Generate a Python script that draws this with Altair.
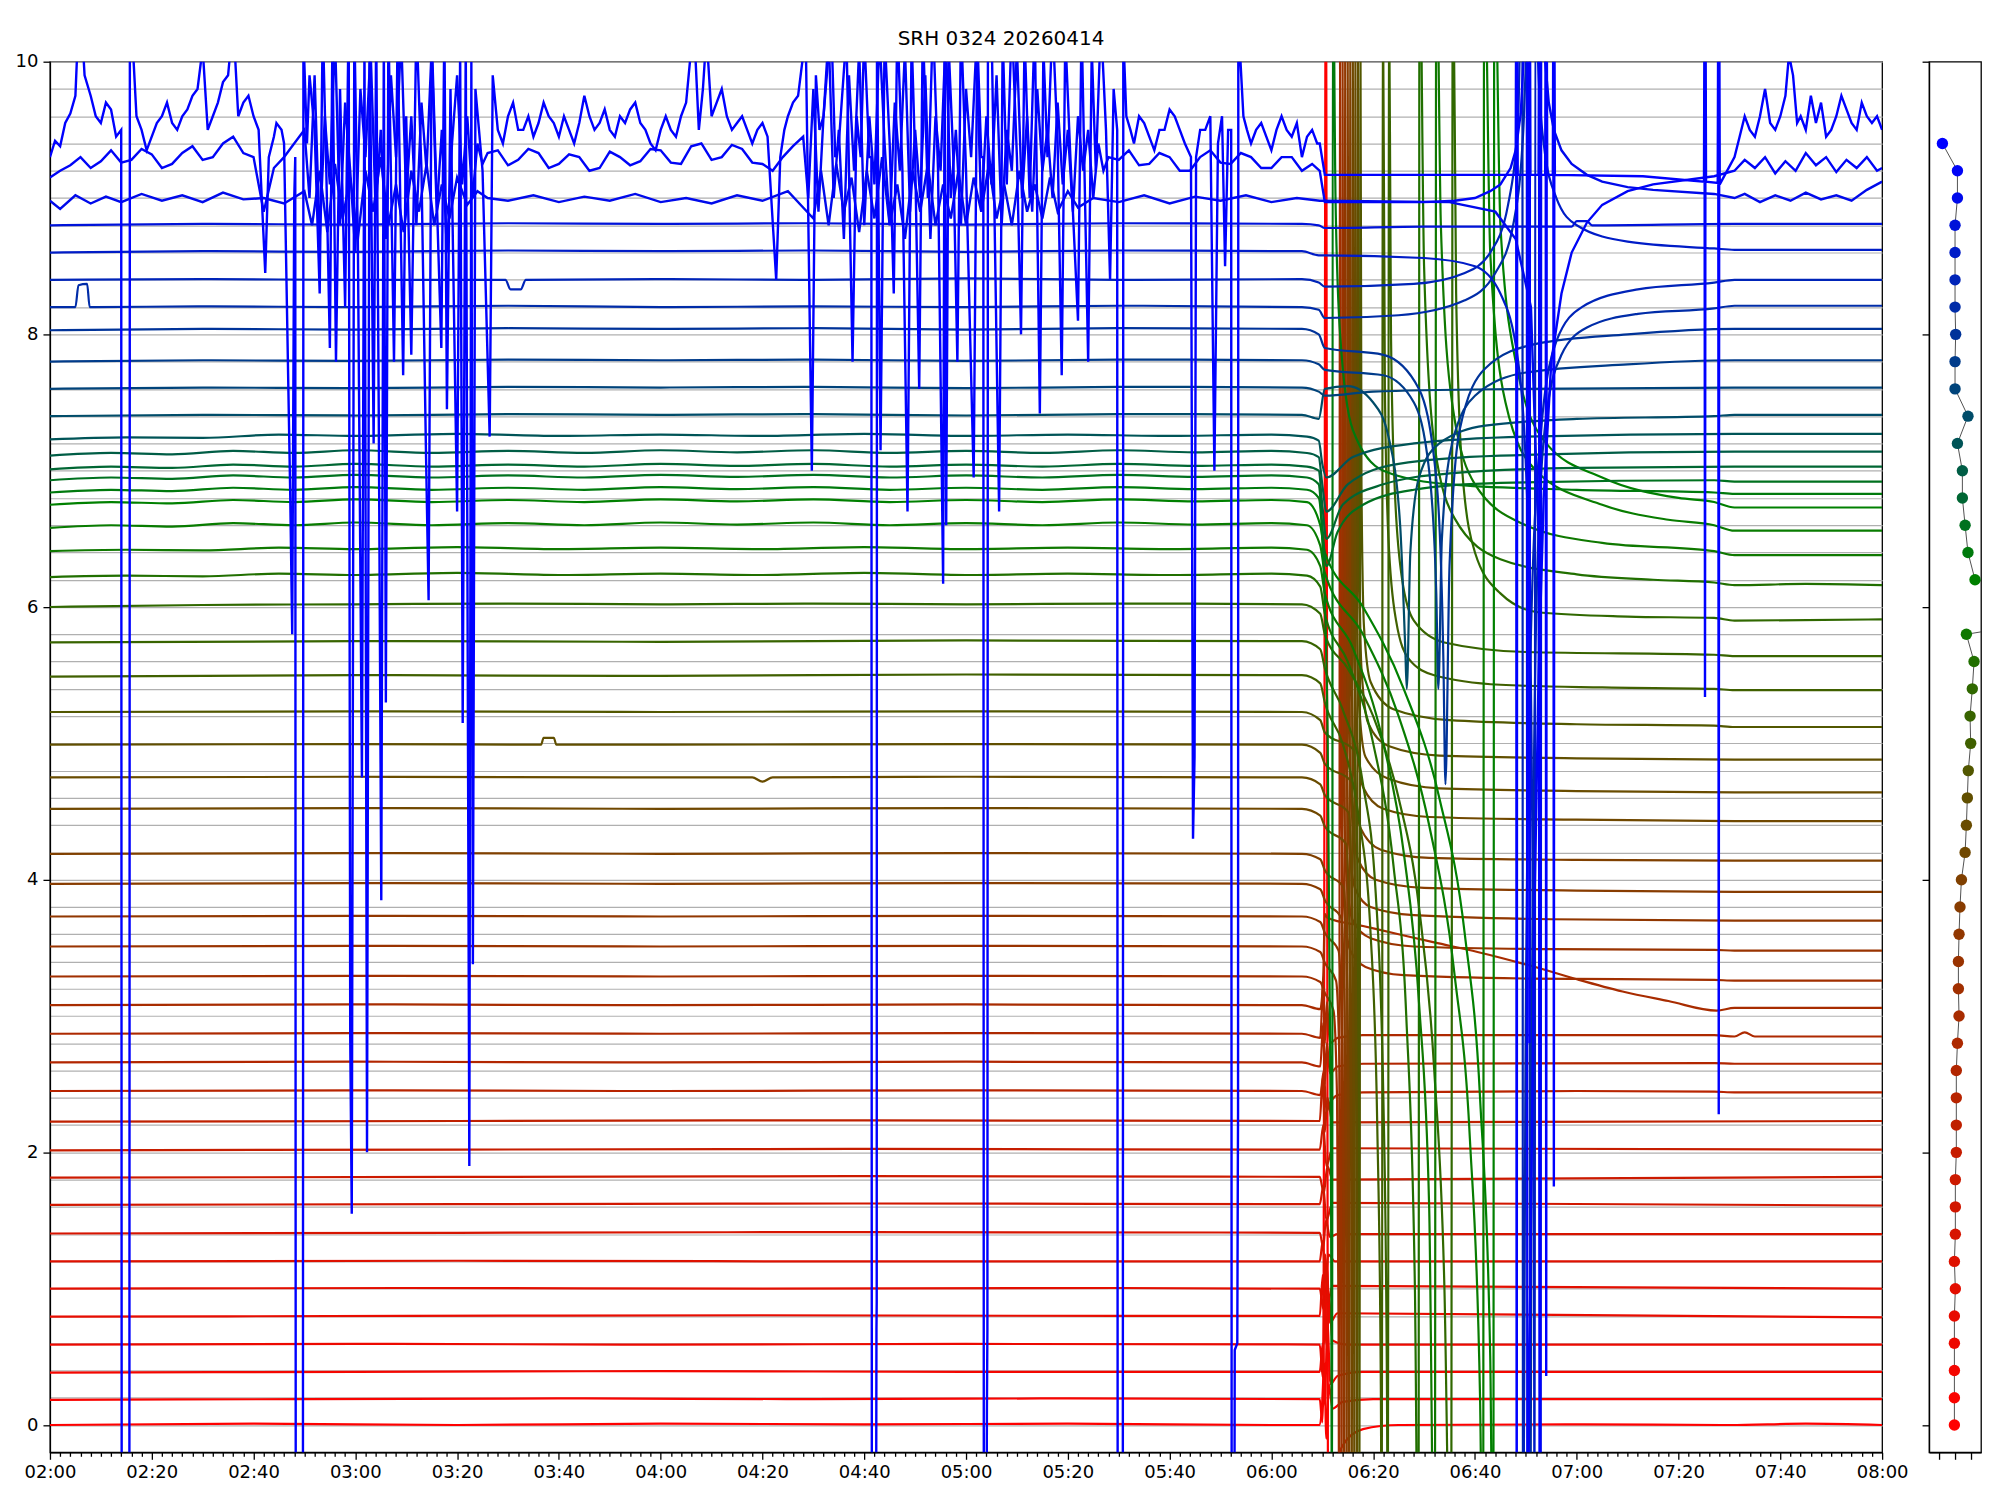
import altair as alt
import pandas as pd

TITLE = "SRH 0324 20260414"

# ---- trace data: (minutes after 02:00, value) ----
trace_00 = [(0,0.0),(40,0.01),(80,0.0),(120,0.01),(160,0.005),(200,0.01),(240,0.0),(249.5,0.0),(250.2,0.35),(250.7,11),(251.2,-1.5),(252,-0.45),(254,-0.15),(258,-0.03),(265,0.0),(300,0.005),(330,0.0),(345,0.01),(360,0.0)]
trace_01 = [(0,0.185),(50,0.19),(100,0.195),(150,0.19),(200,0.195),(249.5,0.19),(250.0,0.02),(250.4,0.45),(250.8,-0.1),(251.3,0.3),(252,0.12),(254,0.17),(260,0.19),(300,0.19),(360,0.19)]
trace_02 = [(0,0.385),(60,0.39),(120,0.395),(180,0.39),(249.5,0.39),(250.1,0.6),(250.5,0.15),(251.0,0.75),(251.6,0.3),(253,0.36),(258,0.39),(360,0.39)]
trace_03 = [(0,0.59),(60,0.595),(120,0.59),(180,0.595),(249.5,0.59),(250.1,0.35),(250.5,1.05),(250.9,0.55),(251.3,0.95),(252,0.62),(255,0.59),(360,0.59)]
trace_04 = [(0,0.795),(70,0.8),(140,0.805),(210,0.8),(249.5,0.8),(250.1,1.1),(250.5,0.6),(250.9,1.15),(251.5,0.75),(253,0.82),(360,0.79)]
trace_05 = [(0,1.0),(70,1.005),(140,1.0),(210,1.005),(249.5,1.0),(250.2,0.85),(250.6,1.25),(251.1,0.9),(252,1.02),(360,1.0)]
trace_06 = [(0,1.2),(80,1.205),(160,1.2),(249.5,1.2),(250.1,1.35),(250.6,1.05),(251.2,1.25),(252.5,1.2),(360,1.2)]
trace_07 = [(0,1.405),(80,1.41),(160,1.415),(249.5,1.41),(250.2,1.3),(250.7,1.5),(251.5,1.38),(253,1.4),(360,1.4)]
trace_08 = [(0,1.615),(80,1.62),(160,1.625),(249.5,1.62),(250.2,1.75),(250.8,1.5),(252,1.63),(360,1.61)]
trace_09 = [(0,1.815),(80,1.82),(160,1.825),(249.5,1.82),(250.3,1.7),(251,1.9),(252,1.8),(360,1.82)]
trace_10 = [(0,2.015),(80,2.02),(160,2.025),(249.5,2.02),(250.2,2.2),(250.8,1.9),(252,2.03),(360,2.02)]
trace_11 = [(0,2.225),(80,2.23),(160,2.235),(249.5,2.23),(250.1,2.55),(250.5,2.15),(251,2.4),(252,2.22),(360,2.23)]
trace_12 = [(0,2.45),(60,2.455),(120,2.45),(180,2.455),(246,2.45),(249.6,2.42),(250.3,2.6),(250.8,2.3),(251.5,2.36),(253,2.42),(258,2.44),(300,2.45),(327,2.445),(331,2.44),(360,2.44)]
trace_13 = [(0,2.66),(60,2.665),(120,2.66),(180,2.665),(246,2.66),(249.6,2.63),(250.2,2.95),(250.5,2.5),(250.9,2.8),(251.5,2.58),(253,2.63),(258,2.65),(327,2.655),(331,2.65),(360,2.65)]
trace_14 = [(0,2.87),(60,2.875),(120,2.87),(180,2.875),(246,2.87),(249.6,2.84),(250.2,3.25),(250.5,2.8),(250.9,3.1),(251.5,2.8),(253,2.84),(258,2.86),(327,2.86),(331,2.85),(333,2.88),(335,2.85),(360,2.85)]
trace_15 = [(0,3.08),(60,3.085),(120,3.08),(180,3.085),(246,3.08),(249.6,3.05),(250.2,3.3),(250.5,3.75),(251,3.72),(258,3.66),(265,3.6),(272,3.54),(280.5,3.47),(292.7,3.35),(300,3.27),(309,3.18),(318,3.11),(327.5,3.04),(331,3.06),(360,3.06)]
trace_16 = [(0,3.29),(60,3.295),(120,3.29),(180,3.295),(246,3.29),(249.6,3.25),(250.5,3.17),(252.2,3.04),(252.9,2.4),(253.2,0.7),(253.35,-1.5),(253.45,11),(253.7,4.8),(254.2,3.85),(255.5,3.48),(258.5,3.36),(266,3.3),(290,3.275),(327,3.265),(331,3.26),(360,3.26)]
trace_17 = [(0,3.51),(60,3.515),(120,3.51),(180,3.515),(246,3.51),(249.6,3.47),(250.5,3.39),(252.7,3.26),(253.4,2.6),(253.7,0.9),(253.85,-1.5),(253.95,11),(254.2,5.0),(254.7,4.05),(256,3.7),(259.5,3.57),(268,3.51),(295,3.49),(327,3.485),(331,3.48),(360,3.48)]
trace_18 = [(0,3.73),(60,3.735),(120,3.73),(180,3.735),(246,3.73),(249.6,3.69),(250.5,3.61),(253.2,3.48),(253.9,2.8),(254.2,1.1),(254.35,-1.5),(254.45,11),(254.7,5.2),(255.2,4.3),(256.5,3.93),(259.5,3.8),(268,3.74),(295,3.71),(331,3.7),(360,3.7)]
trace_19 = [(0,3.97),(60,3.975),(120,3.97),(180,3.975),(246,3.97),(249.6,3.93),(250.5,3.85),(253.7,3.72),(254.4,3.0),(254.7,1.3),(254.85,-1.5),(254.95,11),(255.2,5.5),(255.7,4.55),(257,4.15),(260.5,4.0),(270,3.94),(300,3.92),(331,3.91),(360,3.91)]
trace_20 = [(0,4.19),(60,4.195),(120,4.19),(180,4.195),(246,4.19),(249.6,4.15),(250.5,4.07),(254.2,3.94),(254.9,3.2),(255.2,1.5),(255.35,-1.5),(255.45,11),(255.7,5.8),(256.2,4.8),(257.5,4.38),(261.5,4.22),(271,4.16),(300,4.145),(331,4.14),(360,4.14)]
trace_21 = [(0,4.52),(60,4.525),(120,4.52),(180,4.525),(246,4.52),(249.6,4.47),(250.5,4.39),(254.7,4.26),(255.4,3.5),(255.7,1.7),(255.85,-1.5),(255.95,11),(256.2,6.1),(256.7,5.1),(258,4.68),(262,4.52),(271,4.46),(300,4.44),(331,4.43),(360,4.43)]
trace_22 = [(0,4.75),(60,4.755),(120,4.75),(138,4.75),(140,4.72),(142,4.75),(180,4.755),(246,4.75),(249.6,4.7),(250.5,4.62),(255.2,4.49),(255.9,3.7),(256.2,1.9),(256.35,-1.5),(256.45,11),(256.7,6.3),(257.2,5.3),(258.5,4.9),(263,4.74),(273,4.67),(300,4.65),(331,4.64),(360,4.64)]
trace_23 = [(0,4.99),(60,4.995),(96.5,4.99),(97,5.04),(99,5.04),(99.5,4.99),(120,4.99),(180,4.995),(246,4.99),(249.6,4.93),(250.5,4.85),(255.7,4.72),(256.4,3.9),(256.7,2.1),(256.85,-1.5),(256.95,11),(257.2,6.6),(257.7,5.55),(259,5.15),(263,4.98),(273,4.91),(300,4.89),(331,4.88),(360,4.88)]
trace_24 = [(0,5.23),(60,5.235),(120,5.23),(180,5.235),(246,5.23),(249.6,5.17),(250.5,5.08),(256.2,4.95),(256.9,4.1),(257.2,2.3),(257.35,-1.5),(257.45,11),(257.7,6.9),(258.2,5.85),(259.5,5.45),(264,5.25),(275,5.17),(300,5.14),(327,5.13),(331,5.12),(360,5.12)]
trace_25 = [(0,5.49),(60,5.5),(120,5.495),(180,5.505),(246,5.5),(249.6,5.44),(250.5,5.3),(254,5.0),(257,4.5),(259.5,3.6),(260.8,2.2),(261.5,0.3),(261.75,-1.5),(261.85,11),(262.3,7.6),(263,6.5),(264.5,5.9),(267,5.62),(272,5.5),(285,5.43),(305,5.41),(327,5.4),(331,5.39),(360,5.39)]
trace_26 = [(0,5.74),(60,5.75),(120,5.745),(180,5.755),(246,5.75),(249.6,5.69),(250.5,5.55),(254,5.25),(258,4.7),(260.5,3.9),(262,2.4),(262.7,0.3),(262.95,-1.5),(263.05,11),(263.5,8.0),(264.2,6.9),(265.7,6.2),(268,5.9),(274,5.74),(290,5.67),(327,5.65),(331,5.64),(360,5.64)]
trace_27 = [(0,6.0),(30,6.015),(60,6.02),(90,6.025),(120,6.02),(150,6.025),(180,6.02),(210,6.025),(246,6.02),(249.6,5.95),(250.5,5.8),(255,5.55),(260,5.2),(265,4.6),(269,3.8),(272,2.6),(274,1.0),(275.3,-1.5),(275.65,11),(276.3,8.3),(277.5,7.0),(280,6.4),(285,6.1),(292.7,5.96),(310,5.93),(327,5.92),(331,5.9),(360,5.91)]
trace_28 = [(0,6.22),(15,6.23),(30,6.225),(45,6.245),(60,6.235),(80,6.25),(100,6.235),(120,6.245),(140,6.235),(160,6.25),(180,6.235),(200,6.245),(220,6.235),(240,6.245),(247,6.23),(249.6,6.15),(250.5,5.95),(255,5.6),(260,5.0),(264,4.1),(266.5,3.0),(268.2,1.0),(268.9,-1.5),(269.1,11),(270,8.5),(272,7.2),(276,6.65),(285,6.35),(300,6.24),(315,6.2),(327,6.18),(331,6.16),(345,6.17),(360,6.16)]
trace_29 = [(0,6.41),(15,6.42),(30,6.415),(45,6.435),(60,6.425),(80,6.44),(100,6.425),(120,6.435),(140,6.425),(160,6.44),(180,6.425),(200,6.435),(220,6.425),(240,6.435),(247,6.42),(249.6,6.3),(250.5,6.1),(256,5.7),(262,5.0),(266,4.2),(269,3.1),(271,1.6),(272.1,-1.5),(272.4,11),(273.3,8.8),(275.5,7.5),(280,6.9),(290,6.6),(305,6.47),(327,6.41),(331,6.38),(360,6.38)]
trace_30 = [(0,6.58),(12,6.6),(24,6.59),(36,6.615),(48,6.6),(60,6.62),(75,6.6),(90,6.615),(105,6.6),(120,6.62),(135,6.605),(150,6.62),(165,6.6),(180,6.615),(195,6.6),(210,6.62),(225,6.605),(240,6.615),(247,6.6),(249.6,6.45),(250.5,6.25),(258,5.8),(265,5.2),(271,4.4),(276,3.3),(279,2.1),(281,0.2),(281.6,-1.5),(281.8,11),(283,8.6),(286,7.5),(292,7.0),(305,6.75),(318,6.64),(327,6.6),(331,6.56),(360,6.56)]
trace_31 = [(0,6.75),(12,6.77),(24,6.76),(36,6.785),(48,6.77),(60,6.79),(75,6.77),(90,6.785),(105,6.77),(120,6.79),(135,6.775),(150,6.79),(165,6.77),(180,6.785),(195,6.77),(210,6.79),(225,6.775),(240,6.785),(247,6.77),(249.6,6.6),(250.5,6.4),(258,6.0),(266,5.4),(273,4.6),(278,3.6),(281,2.4),(283,0.5),(283.6,-1.5),(283.8,11),(285,8.8),(288,7.8),(294,7.2),(305,6.95),(320,6.8),(327,6.77),(331,6.73),(360,6.73)]
trace_32 = [(0,6.84),(12,6.86),(24,6.85),(36,6.875),(48,6.86),(60,6.88),(75,6.86),(90,6.875),(105,6.86),(120,6.88),(135,6.865),(150,6.88),(165,6.86),(180,6.875),(195,6.86),(210,6.88),(225,6.865),(240,6.875),(247,6.86),(249.3,6.8),(250,6.5),(251,5.2),(251.7,2.0),(251.95,-1.5),(252.05,11),(252.6,9.0),(253.5,8.0),(256,7.3),(262,7.0),(275,6.9),(300,6.86),(327,6.84),(331,6.83),(360,6.83)]
trace_33 = [(0,6.93),(12,6.95),(24,6.94),(36,6.965),(48,6.95),(60,6.97),(75,6.95),(90,6.965),(105,6.95),(120,6.97),(135,6.955),(150,6.97),(165,6.95),(180,6.965),(195,6.95),(210,6.97),(225,6.955),(240,6.965),(247,6.95),(249.3,6.9),(250,6.6),(250.8,6.3),(253,6.55),(258,6.75),(268,6.86),(285,6.91),(327,6.93),(331,6.92),(360,6.92)]
trace_34 = [(0,7.01),(12,7.03),(24,7.02),(36,7.045),(48,7.03),(60,7.05),(75,7.03),(90,7.045),(105,7.03),(120,7.05),(135,7.035),(150,7.05),(165,7.03),(180,7.045),(195,7.03),(210,7.05),(225,7.035),(240,7.045),(247,7.03),(249.3,7.0),(250,6.75),(250.8,6.5),(254,6.75),(262,6.9),(275,6.98),(300,7.02),(331,7.03),(360,7.03)]
trace_35 = [(0,7.11),(12,7.13),(24,7.12),(36,7.145),(48,7.13),(60,7.15),(75,7.13),(90,7.145),(105,7.13),(120,7.15),(135,7.135),(150,7.15),(165,7.13),(180,7.145),(195,7.13),(210,7.15),(225,7.135),(240,7.145),(247,7.13),(249.3,7.1),(250,6.9),(250.8,6.7),(255,6.9),(265,7.05),(285,7.11),(331,7.14),(360,7.14)]
trace_36 = [(0,7.23),(15,7.245),(30,7.24),(45,7.265),(60,7.255),(80,7.27),(100,7.255),(120,7.265),(140,7.255),(160,7.27),(180,7.255),(200,7.265),(220,7.255),(240,7.265),(247,7.25),(249.3,7.22),(250,7.05),(250.8,6.95),(256,7.1),(268,7.2),(290,7.25),(331,7.27),(360,7.27)]
trace_37 = [(0,7.4),(30,7.41),(60,7.405),(90,7.415),(120,7.41),(150,7.415),(180,7.405),(210,7.415),(246,7.41),(249.3,7.38),(250.5,7.6),(255,7.62),(260,7.5),(263,7.25),(265.3,6.6),(266.3,5.7),(266.6,5.4),(267.3,6.4),(269,6.95),(273,7.2),(282,7.33),(300,7.38),(327,7.4),(331,7.41),(360,7.41)]
trace_38 = [(0,7.6),(30,7.61),(60,7.605),(90,7.615),(120,7.61),(150,7.615),(180,7.605),(210,7.615),(246,7.61),(249.3,7.58),(250.5,7.55),(260,7.58),(290,7.6),(331,7.61),(360,7.61)]
trace_39 = [(0,7.8),(30,7.81),(60,7.805),(90,7.815),(120,7.81),(150,7.815),(180,7.805),(210,7.815),(246,7.81),(249.3,7.78),(250.5,7.74),(262,7.7),(268,7.5),(271,7.0),(272.4,6.1),(272.8,5.4),(273.5,6.5),(275.5,7.2),(280,7.55),(290,7.72),(310,7.78),(331,7.81),(360,7.81)]
trace_40 = [(0,8.03),(30,8.04),(60,8.035),(90,8.045),(120,8.04),(150,8.045),(180,8.035),(210,8.045),(246,8.04),(249.3,8.0),(250.5,7.9),(262,7.85),(269,7.6),(272.5,6.9),(273.8,5.6),(274.2,4.7),(275,6.3),(277,7.3),(282,7.75),(292,7.93),(310,8.0),(331,8.04),(360,8.04)]
trace_41 = [(0,8.2),(5,8.2),(5.6,8.36),(7.3,8.37),(7.8,8.2),(30,8.205),(60,8.2),(90,8.21),(120,8.2),(150,8.205),(180,8.2),(210,8.21),(246,8.2),(249.3,8.18),(250.5,8.12),(265,8.14),(278,8.25),(284,8.45),(287.5,8.8),(289.5,9.5),(290.6,10.8),(290.75,11),(290.85,-1.5),(291.2,3.0),(292.2,6.2),(294,7.4),(297,7.85),(302,8.05),(312,8.15),(327,8.19),(331,8.21),(360,8.21)]
trace_42 = [(0,8.4),(30,8.405),(60,8.4),(89.5,8.4),(90.5,8.33),(92.5,8.33),(93.5,8.4),(120,8.405),(150,8.4),(180,8.41),(210,8.4),(246,8.405),(249.3,8.38),(250.5,8.35),(268,8.37),(278,8.45),(283,8.6),(286.5,8.95),(288.5,9.6),(289.3,11),(289.45,-1.5),(289.9,2.5),(291,5.8),(293,7.3),(296,7.95),(301,8.2),(312,8.33),(327,8.38),(331,8.4),(360,8.4)]
trace_43 = [(0,8.6),(30,8.61),(60,8.605),(90,8.615),(120,8.61),(150,8.615),(180,8.605),(210,8.615),(246,8.61),(249.3,8.58),(250.5,8.58),(270,8.56),(280,8.5),(285,8.3),(288.5,7.8),(290.5,6.5),(291.5,3.0),(291.75,-1.5),(291.85,11),(292.4,10.0),(293.5,9.4),(296,9.0),(300,8.8),(310,8.68),(327,8.63),(331,8.62),(360,8.62)]
trace_44 = [(0,8.8),(30,8.81),(60,8.805),(90,8.815),(120,8.81),(150,8.815),(180,8.805),(210,8.815),(246,8.81),(249.3,8.8),(250.5,8.78),(270,8.79),(299,8.79),(300,8.83),(302,8.83),(303,8.8),(331,8.81),(360,8.81)]
trace_45 = [(0,8.98),(2,8.92),(5,9.02),(8,8.96),(11,9.01),(14,8.97),(18,9.03),(22,8.98),(26,9.02),(30,8.97),(34,9.04),(38,8.99),(42,9.0),(46,8.96),
            (50,9.05),(51.5,8.8),(53,9.2),(54.5,8.75),(56,9.25),(57.5,8.85),(59,9.15),(60.5,8.7),(62,9.2),(63.5,8.9),(65,9.3),(66.5,8.8),(68,9.1),(69.5,8.75),(71,9.2),(72.5,8.9),(74,9.25),(75.5,8.8),(77,9.1),(78.5,8.85),(80,9.15),(82,8.95),(84,9.05),(86,9.0),
            (90,8.98),(95,9.02),(100,8.97),(105,9.01),(110,8.98),(115,9.03),(120,8.97),(125,9.0),(130,8.96),(135,9.02),(140,8.98),(145,9.05),
            (150,8.85),(151.5,9.2),(153,8.8),(154.5,9.25),(156,8.9),(157.5,9.15),(159,8.75),(160.5,9.2),(162,8.85),(163.5,9.3),(165,8.8),(166.5,9.1),(168,8.7),(169.5,9.2),(171,8.9),(172.5,9.25),(174,8.8),(175.5,9.1),(177,8.85),(178.5,9.2),(180,8.8),(181.5,9.15),(183,8.9),(184.5,9.25),(186,8.85),(187.5,9.1),(189,8.8),(190.5,9.2),(192,8.9),(193.5,9.1),(195,8.85),(196.5,9.15),(198,8.9),(200,9.05),(202,8.93),(205,9.0),
            (210,8.97),(215,9.02),(220,8.96),(225,9.01),(230,8.98),(235,9.02),(240,8.97),(245,9.0),(249.5,8.98),
            (250.5,8.98),(275,8.97),(284,8.9),(288,8.7),(291,8.2),(292.5,6.5),(292.9,-1.5),(293.0,11),(293.4,10.6),(293.8,10.0),(294.5,9.7),(295.5,9.5),(297,9.35),(299,9.25),(302,9.17),(305,9.12),(310,9.08),(315,9.06),(327,9.03),(331,9.0),(333,9.03),(336,8.97),(339,9.02),(342,8.98),(345,9.04),(348,8.99),(351,9.02),(354,8.98),(357,9.06),(360,9.12)]
trace_46 = [(0,9.15),(2,9.2),(4,9.24),(6,9.3),(8,9.22),(10,9.27),(12,9.35),(14,9.26),(16,9.28),(18,9.36),(20,9.32),(22,9.22),(24,9.25),(26,9.33),(28,9.38),(30,9.28),(32,9.3),(34,9.4),(36,9.45),(38,9.33),(40,9.3),(42,8.9),(44,9.22),(46,9.3),(47,9.35),
            (50,9.5),(51,9.0),(52,9.9),(53,8.7),(54,9.6),(55,9.1),(56,10.2),(57,8.8),(58,9.7),(59,9.2),(60,8.6),(61,9.8),(62,9.3),(63,10.1),(64,8.9),(65,9.5),(66,8.7),(67,9.9),(68,9.3),(69,10.2),(70,9.0),(71,9.6),(72,8.8),(73,9.7),(74,9.2),(75,10.1),(76,8.9),(77,9.5),(78,8.6),(79,9.4),(80,9.9),(81,9.1),(82,9.6),(83,9.0),(84,9.4),(85,9.25),
            (86,9.33),(88,9.35),(90,9.24),(92,9.28),(94,9.36),(96,9.33),(98,9.22),(100,9.25),(102,9.32),(104,9.3),(106,9.2),(108,9.22),(110,9.34),(112,9.3),(114,9.24),(116,9.27),(118,9.36),(120,9.35),(122,9.26),(124,9.25),(126,9.38),(128,9.4),(130,9.28),(132,9.3),(134,9.39),(136,9.36),(138,9.26),(140,9.25),(142,9.2),(144,9.3),(146,9.38),
            (148,9.45),(149,9.0),(150,9.8),(151,8.9),(152,9.6),(153,10.2),(154,9.0),(155,9.5),(156,8.7),(157,9.9),(158,9.2),(159,10.1),(160,8.8),(161,9.6),(162,9.1),(163,10.2),(164,9.4),(165,8.8),(166,9.7),(167,9.2),(168,10.1),(169,8.9),(170,9.5),(171,9.0),(172,9.9),(173,8.7),(174,9.6),(175,9.2),(176,10.2),(177,9.0),(178,9.5),(179,8.8),(180,9.8),(181,9.3),(182,10.1),(183,8.9),(184,9.6),(185,9.1),(186,9.9),(187,8.8),(188,9.5),(189,9.2),(190,10.1),(191,9.0),(192,9.6),(193,8.9),(194,9.8),(195,9.2),(196,9.5),(197,9.0),(198,9.7),(199,9.1),(200,9.5),(201,8.9),(202,9.6),(203,9.2),(204,9.5),(205,9.0),(206,9.4),(207,9.2),(208,9.3),
            (210,9.28),(212,9.35),(214,9.24),(216,9.25),(218,9.33),(220,9.3),(222,9.2),(224,9.2),(226,9.3),(228,9.35),(230,9.26),(232,9.25),(234,9.33),(236,9.3),(238,9.22),(240,9.22),(242,9.3),(244,9.3),(246,9.2),(248,9.25),(249.5,9.2),
            (250.5,8.97),(270,8.97),(276,8.98),(280,9.0),(283,9.05),(285,9.1),(287,9.22),(288,9.35),(289,9.62),(289.8,10.2),(290.2,11),(290.3,-1.5),(290.6,0.0),(291,1.5),(291.7,3.8),(292.5,5.5),(293.5,6.8),(295,7.8),(297,8.3),(299,8.6),(302,8.82),(305,8.95),(310,9.05),(315,9.1),(327,9.16),(331,9.2),(333,9.28),(335,9.22),(337,9.3),(339,9.18),(341,9.27),(343,9.2),(345,9.33),(347,9.24),(349,9.3),(351,9.19),(353,9.28),(355,9.22),(357,9.3),(359,9.2),(360,9.22)]
trace_47 = [(0,9.3),(1,9.42),(2,9.38),(3,9.55),(4,9.62),(5,9.75),(5.5,10.2),(6.2,10.3),(6.8,9.9),(8,9.75),(9,9.6),(10,9.55),(11,9.7),(12,9.65),(13,9.45),
            (14.0,9.5),(14.1,-1.5),(15.6,-1.5),(15.7,10.3),(16.3,10.1),(17,9.6),(18,9.5),(19,9.35),(20,9.45),(21,9.55),(22,9.6),(23,9.7),(24,9.55),(25,9.5),(26,9.6),(27,9.65),(28,9.75),(29,9.8),(30,10.1),(31,9.5),(32,9.6),(33,9.7),(34,9.85),(35,9.9),(36,10.3),(37,9.6),(38,9.7),(39,9.75),(40,9.6),(41,9.5),(42.3,8.45),(43,9.3),(44,9.45),(44.5,9.55),(45.5,9.5),(46,9.4),(47.2,6.85),(47.6,5.8),(48.0,9.0),(48.2,9.3),(48.3,-1.5),(49.7,-1.5),(49.8,10.2),(50.5,9.4),(51,9.9),(52,9.5),(53,8.3),(53.6,10.3),(54.3,9.2),(55,7.9),(55.5,10.2),(56.2,7.8),(57,9.8),(58,8.2),(58.7,10.4),(59.0,2.85),(59.3,1.55),(59.8,10.3),(60.5,8.7),(61.3,4.75),(61.8,10.2),(62.3,2.0),(62.8,10.3),(63.6,7.2),(64.1,10.3),(64.6,7.45),(65.1,3.85),(65.6,10.2),(66.0,5.3),(66.5,10.3),(67.6,7.8),(68.3,10.2),(69.4,7.7),(70,9.6),(71,7.85),(72,10.3),(73,9.2),(73.9,7.1),(74.4,6.05),(75,10.2),(76,9.0),(76.9,7.9),(77.5,10.3),(78,7.45),(78.7,9.8),(80,6.7),(80.6,10.1),(81.1,5.15),(81.7,10.2),(82.4,1.9),(82.8,10.0),(83.1,3.38),(83.6,9.8),(85,9.2),(86.4,7.25),(87,9.9),(88,9.5),(89,9.4),(90,9.6),(91,9.7),(92,9.5),(93,9.5),(94,9.6),(95,9.45),(96,9.55),(97,9.7),(98,9.6),(99,9.55),(100,9.45),(101,9.6),(102,9.5),(103,9.4),(104,9.55),(105,9.75),(106,9.6),(107,9.5),(108,9.55),(109,9.65),(110,9.5),(111,9.45),(112,9.6),(113,9.55),(114,9.65),(115,9.7),(116,9.55),(117,9.5),(118,9.4),(119,9.35),(120,9.5),(121,9.6),(122,9.5),(123,9.45),(124,9.6),(125,9.7),(126.5,10.3),(127.5,9.5),(128.3,9.8),(129,10.2),(130,9.6),(131,9.7),(132,9.8),(133,9.6),(134,9.5),(135,9.55),(136,9.6),(137,9.5),(138,9.4),(139,9.5),(140,9.55),(141,9.45),(142.7,8.4),(143.5,9.3),(144.3,9.5),(145,9.6),(146,9.7),(147,9.75),(148.5,10.2),(149.7,7.0),(150.5,9.9),(151.2,9.5),(152,9.6),(153.5,10.3),(154.3,9.3),(155,9.4),(156.5,10.2),(157.7,7.8),(158.5,9.6),(159.3,9.3),(160,10.2),(161,9.3),
            (161.4,9.3),(161.5,-1.5),(162.3,-1.5),(162.4,0.7),(162.45,0.9),(162.5,10.2),(163.2,7.15),(164,10.2),(165,9.4),(165.8,8.3),(166.5,10.3),(167.5,9.2),(168.5,6.7),(169.3,10.2),(170,9.3),(170.8,7.6),(171.5,10.3),(172.5,9.0),(173.5,10.3),(174.5,9.2),(175.5,6.17),(175.8,10.2),(176.1,6.6),(176.6,10.1),(177.5,9.3),(178.3,7.8),(179,10.3),(180,9.2),(181.5,6.95),(182.2,10.2),(183,9.3),(183.4,9.3),(183.5,-1.5),(184.0,-1.5),(184.1,0.1),(184.2,0.7),(184.3,10.3),(185,10.3),(186.5,6.7),(187.2,10.2),(188,9.1),(189,10.3),(190,9.3),(190.8,8.0),(191.5,10.2),(192.5,9.0),(193.5,10.3),(194.5,7.42),(195.2,10.1),(196,9.3),(197,10.3),(198,9.4),(198.8,7.7),(199.5,10.2),(200.5,9.3),(202,8.1),(202.7,10.3),(204,7.8),(204.7,10.1),(205.5,9.2),(206.5,10.3),(207.5,9.5),(208.3,8.4),(209,9.8),(209.7,9.5),(209.8,-1.5),(210.8,-1.5),(210.9,10.2),(211.5,9.6),(212.3,9.5),(213,9.4),(214,9.6),(215,9.55),(216,9.45),(217,9.35),(218,9.5),(219,9.5),(220,9.65),(221,9.6),(222,9.5),(223,9.4),(224.2,9.3),(224.6,4.3),(224.9,4.9),(225.2,9.3),(226,9.5),(227,9.5),(228,9.6),(228.8,7.0),(229.5,9.4),(230.3,9.6),(230.9,8.5),(231.5,9.5),(232.1,9.5),(232.2,-1.5),(232.7,-1.5),(232.8,0.55),(233.3,0.6),(233.4,1.8),(233.45,2.3),(233.5,10.3),(234.5,9.6),(235.2,9.5),(236,9.4),(237,9.5),(238,9.55),(239,9.45),(240,9.35),(241,9.5),(242,9.6),(243,9.5),(244,9.45),(245,9.55),(246,9.3),(247,9.45),(248,9.5),(249,9.4),(249.5,9.4),
            (250.5,9.17),(288.0,9.17),(288.1,10.5),(288.2,-1.5),(288.3,10.5),(288.4,9.17),(290.5,9.17),(290.6,10.5),(290.7,2.8),(290.8,10.5),(290.9,9.17),(292.5,9.17),(292.6,10.5),(292.7,-1.5),(292.8,10.5),(292.9,9.17),(293.8,9.17),(293.9,10.5),(294.0,0.36),(294.1,10.5),(294.2,9.17),(295.3,9.17),(295.4,10.5),(295.5,1.75),(295.6,10.5),(295.7,9.17),(313,9.16),(325.0,9.12),(325.1,10.5),(325.2,5.34),(325.3,10.5),(325.4,9.12),(327.7,9.11),(327.8,10.5),(327.9,2.28),(328.0,10.5),(328.1,9.1),(331,9.3),(332,9.45),(333,9.6),(334,9.5),(335,9.45),(336,9.6),(337,9.8),(338,9.55),(339,9.5),(340,9.6),(341,9.75),(341.7,10.05),(342.5,9.9),(343.3,9.55),(344,9.6),(345,9.5),(346,9.75),(347,9.55),(348,9.7),(349,9.45),(350,9.5),(351,9.6),(352,9.75),(353,9.65),(354,9.55),(355,9.5),(356,9.7),(357,9.6),(358,9.55),(359,9.6),(360,9.5)]

traces = [trace_00, trace_01, trace_02, trace_03, trace_04, trace_05, trace_06, trace_07,
          trace_08, trace_09, trace_10, trace_11, trace_12, trace_13, trace_14, trace_15,
          trace_16, trace_17, trace_18, trace_19, trace_20, trace_21, trace_22, trace_23,
          trace_24, trace_25, trace_26, trace_27, trace_28, trace_29, trace_30, trace_31,
          trace_32, trace_33, trace_34, trace_35, trace_36, trace_37, trace_38, trace_39,
          trace_40, trace_41, trace_42, trace_43, trace_44, trace_45, trace_46, trace_47]
noisy_traces = [45, 46, 47]

# right panel: dot positions (x offset, nominal level)
dot_x = [-0.04, -0.04, -0.04, -0.04, -0.04, 0.02, -0.04, 0.02, 0.02, 0.02, 0.08, 0.08,
         0.08, 0.08, 0.15, 0.25, 0.21, 0.21, 0.25, 0.31, 0.40, 0.63, 0.71, 0.77,
         0.83, 0.98, 0.94, 1.08, 1.19, 0.71, 11.0, 1.25, 0.81, 0.63, 0.46, 0.46,
         0.15, 0.81, 0.0, 0.0, 0.04, 0.0, 0.0, 0.0, 0.0, 0.15, 0.15, -0.79]
dot_y = [0.0, 0.2, 0.4, 0.6, 0.8, 1.0, 1.2, 1.4, 1.6, 1.8, 2.0, 2.2, 2.4, 2.6, 2.8, 3.0,
         3.2, 3.4, 3.6, 3.8, 4.0, 4.2, 4.4, 4.6, 4.8, 5.0, 5.2, 5.4, 5.6, 5.8, 6.0, 6.2,
         6.4, 6.6, 6.8, 7.0, 7.2, 7.4, 7.6, 7.8, 8.0, 8.2, 8.4, 8.6, 8.8, 9.0, 9.2, 9.4]

x_tick_minutes = list(range(0, 361, 2))
y_tick_levels = [round(0.2 * i, 1) for i in range(51)]

# ---- colours (style): red -> green -> blue ----
RG_T = [0, .02, .045, .07, .09, .11, .13, .155, .18, .2, .225, .25, .28, .30, .32, .34,
        .37, .40, .43, .465, .5, .56, .59, .62, .68, .75, .78, .81, .87, .94, .97, 1.0]
GB_S = [0.05, 0.12, 0.2, 0.27, 0.34, 0.41, 0.48, 0.54, 0.6, 0.66, 0.72, 0.78, 0.85, 0.92, 0.97, 1.0]
colors = []
for k in range(48):
    if k < 32:
        t = RG_T[k]; r, g, b = 255 * (1 - t), 128 * t, 0
    else:
        s = GB_S[k - 32]; r, g, b = 0, 128 * (1 - s), 255 * s
    colors.append("#%02x%02x%02x" % (int(round(r)), int(round(g)), int(round(b))))
names = ["t%02d" % k for k in range(48)]

rows_smooth, rows_noisy = [], []
for k, tr in enumerate(traces):
    target = rows_noisy if k in noisy_traces else rows_smooth
    for i, (t, v) in enumerate(tr):
        target.append({"trace": names[k], "i": i, "t": t, "v": v})
df_smooth = pd.DataFrame(rows_smooth)
df_noisy = pd.DataFrame(rows_noisy)

dots = pd.DataFrame({"x": dot_x, "y": dot_y, "trace": names, "k": list(range(48))})

FONT = "DejaVu Sans"
color_scale = alt.Scale(domain=names, range=colors)
x_scale = alt.Scale(domain=[0, 360], nice=False, zero=False)
y_scale = alt.Scale(domain=[-0.2, 10], nice=False, zero=False)

major_x = "datum.value % 20 === 0"
x_axis = alt.Axis(
    values=x_tick_minutes,
    labelExpr=f"{major_x} ? timeFormat(datetime(2026, 3, 14, 2, datum.value, 0, 0), '%H:%M') : ''",
    tickSize={"condition": {"test": major_x, "value": 7}, "value": 4},
    labelOverlap=False, labelFlush=False, labelPadding=4, grid=False, title=None,
)
major_y = "abs(datum.value - 2 * round(datum.value / 2)) < 0.001"
y_axis = alt.Axis(
    values=y_tick_levels,
    labelExpr=f"{major_y} ? format(datum.value, 'd') : ''",
    tickOpacity={"condition": {"test": major_y, "value": 1}, "value": 0},
    tickSize=7, grid=True, gridColor="#b0b0b0", gridWidth=1.2,
    labelOverlap=False, labelFlush=False, labelPadding=5, title=None,
)

def trace_layer(data, interp, width):
    return alt.Chart(data).mark_line(clip=True, strokeWidth=width, interpolate=interp).encode(
        x=alt.X("t:Q", scale=x_scale, axis=x_axis),
        y=alt.Y("v:Q", scale=y_scale, axis=y_axis),
        color=alt.Color("trace:N", scale=color_scale, legend=None),
        order=alt.Order("i:Q"),
    )

main = alt.layer(trace_layer(df_smooth, "monotone", 2.2), trace_layer(df_noisy, "linear", 2.4)).properties(width=1834, height=1392)

rx_scale = alt.Scale(domain=[-1.625, 1.625], nice=False, zero=False)
rx_axis = alt.Axis(values=[-1, 0, 1], labels=False, tickSize=7, grid=False, title=None)
ry_axis = alt.Axis(values=[0, 2, 4, 6, 8, 10], labels=False, tickSize=7, grid=False, title=None)

r_line = alt.Chart(dots).mark_line(clip=True, color="#333333", strokeWidth=1, opacity=0.85).encode(
    x=alt.X("x:Q", scale=rx_scale, axis=rx_axis),
    y=alt.Y("y:Q", scale=y_scale, axis=ry_axis),
    order=alt.Order("k:Q"),
)
r_pts = alt.Chart(dots).mark_circle(clip=True, size=130, opacity=1).encode(
    x=alt.X("x:Q", scale=rx_scale, axis=rx_axis),
    y=alt.Y("y:Q", scale=y_scale, axis=ry_axis),
    color=alt.Color("trace:N", scale=color_scale, legend=None),
)
right = (r_line + r_pts).properties(width=52, height=1392)

chart = alt.hconcat(
    main, right, spacing=47, bounds="flush",
    title=alt.TitleParams(TITLE, font=FONT, fontSize=20, fontWeight="normal", color="black",
                          anchor="middle", dx=3, offset=3),
).properties(
    padding={"left": 6, "top": 20, "right": 10, "bottom": 5},
).configure_view(
    stroke="black", strokeWidth=1.3,
).configure_axis(
    domainColor="black", domainWidth=1.3, tickColor="black", tickWidth=1.3,
    labelFont=FONT, labelFontSize=18, labelColor="black",
)

chart.save("out.html", embed_options={"renderer": "svg", "actions": False})
